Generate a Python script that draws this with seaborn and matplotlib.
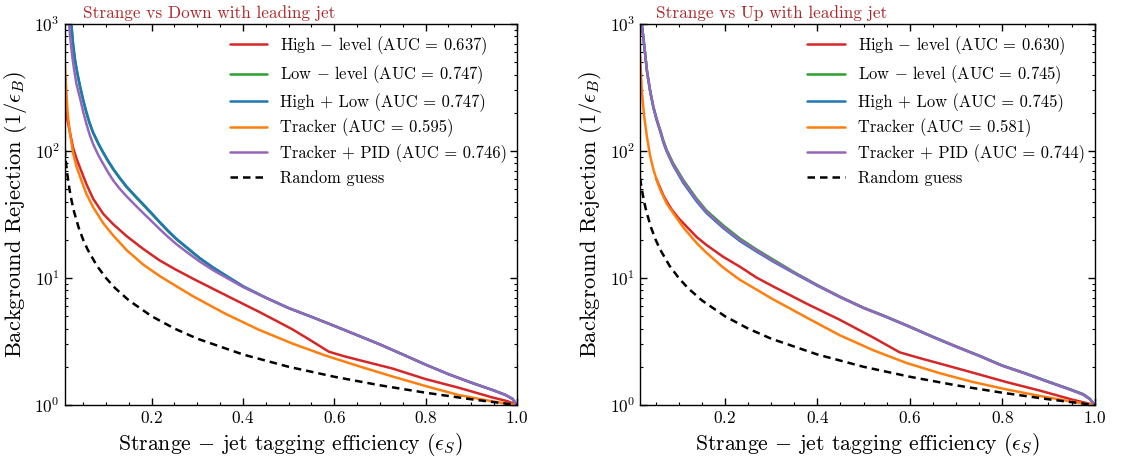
import numpy as np
import pandas as pd
import matplotlib
matplotlib.use("Agg")
import matplotlib.pyplot as plt
import matplotlib.transforms as mtransforms
from matplotlib.ticker import MultipleLocator, LogLocator
import seaborn as sns

# ---------------- Strange vs Down ----------------
down_high_eff = [0.0095, 0.012, 0.015, 0.021, 0.028, 0.035, 0.043, 0.057, 0.072, 0.094, 0.115,
                 0.145, 0.18, 0.217, 0.25, 0.29, 0.363, 0.436, 0.508, 0.55, 0.588, 0.62,
                 0.654, 0.727, 0.8, 0.872, 0.945, 0.98, 1.0]
down_high_rej = [260, 215, 180, 140, 106, 88, 74, 55, 42, 32, 26.7,
                 21.4, 17.1, 13.8, 11.8, 9.9, 7.3, 5.4, 3.95, 3.2, 2.63, 2.43,
                 2.26, 1.94, 1.6, 1.37, 1.15, 1.07, 1.0]

down_low_eff = [0.024, 0.028, 0.032, 0.037, 0.043, 0.05, 0.057, 0.064, 0.072, 0.083, 0.094,
                0.105, 0.116, 0.13, 0.145, 0.163, 0.181, 0.2, 0.217, 0.235, 0.254, 0.28,
                0.305, 0.335, 0.363, 0.4, 0.45, 0.5, 0.55, 0.6, 0.65, 0.7, 0.75, 0.8, 0.85,
                0.9, 0.95, 0.975, 0.99, 1.0]
down_low_rej = [1000, 680, 520, 410, 322, 250, 200, 165, 138, 114, 96.5,
                82.5, 71.5, 61, 52, 44.2, 37.8, 32, 27.5, 23.5, 20.2, 16.9,
                14.3, 12.0, 10.4, 8.6, 7.0, 5.8, 4.95, 4.2, 3.55, 3.0, 2.5, 2.08, 1.75,
                1.5, 1.3, 1.2, 1.12, 1.0]

down_comb_eff = down_low_eff
down_comb_rej = [1000, 690, 528, 415, 326, 253, 203, 167, 140, 115.5, 97.5,
                 83.5, 72.3, 61.7, 52.6, 44.8, 38.3, 32.4, 27.8, 23.8, 20.4, 17.1,
                 14.4, 12.1, 10.45, 8.62, 7.0, 5.8, 4.95, 4.2, 3.55, 3.0, 2.5, 2.08, 1.75,
                 1.5, 1.3, 1.2, 1.12, 1.0]

down_trk_eff = [0.0095, 0.011, 0.013, 0.016, 0.021, 0.028, 0.035, 0.043, 0.057, 0.072, 0.094,
                0.115, 0.145, 0.181, 0.217, 0.25, 0.29, 0.363, 0.436, 0.508, 0.581, 0.654,
                0.727, 0.8, 0.872, 0.945, 1.0]
down_trk_rej = [520, 400, 300, 200, 138, 96, 76, 63, 46, 36, 27,
                21.8, 16.6, 12.8, 10.4, 8.8, 7.2, 5.2, 3.9, 3.05, 2.45, 2.02,
                1.68, 1.41, 1.2, 1.07, 1.0]

down_pid_eff = [0.019, 0.022, 0.026, 0.03, 0.035, 0.043, 0.05, 0.057, 0.064, 0.072, 0.083,
                0.094, 0.105, 0.116, 0.13, 0.145, 0.163, 0.181, 0.2, 0.217, 0.235, 0.254,
                0.28, 0.305, 0.335, 0.363, 0.4, 0.45, 0.5, 0.55, 0.6, 0.65, 0.7, 0.75, 0.8,
                0.85, 0.9, 0.95, 0.975, 0.99, 1.0]
down_pid_rej = [1000, 760, 560, 440, 340, 262, 204, 164, 135, 113, 93,
                79, 67.5, 58.5, 50.5, 44, 37.8, 32.6, 28, 24.4, 21.2, 18.5,
                15.7, 13.5, 11.5, 10.1, 8.5, 7.0, 5.8, 4.95, 4.2, 3.55, 3.0, 2.5, 2.08,
                1.75, 1.5, 1.3, 1.2, 1.12, 1.0]

down_rand_eff = [0.0095, 0.012, 0.015, 0.02, 0.025, 0.03, 0.04, 0.05, 0.06, 0.08, 0.1, 0.12,
                 0.15, 0.2, 0.25, 0.3, 0.4, 0.5, 0.6, 0.7, 0.8, 0.9, 1.0]
down_rand_rej = [105, 83.3, 66.7, 50, 40, 33.3, 25, 20, 16.7, 12.5, 10, 8.33,
                 6.67, 5, 4, 3.33, 2.5, 2, 1.67, 1.43, 1.25, 1.11, 1.0]

down_auc = [0.637, 0.747, 0.747, 0.595, 0.746]

# ---------------- Strange vs Up ----------------
up_high_eff = [0.051, 0.06, 0.067, 0.076, 0.085, 0.1, 0.11, 0.139, 0.16, 0.196, 0.232, 0.268,
               0.304, 0.376, 0.448, 0.521, 0.578, 0.62, 0.665, 0.736, 0.808, 0.881, 0.953, 1.0]
up_high_rej = [61, 51, 44.5, 39, 34.5, 29.5, 27, 21, 18.2, 14.7, 12.3, 10.1,
               8.6, 6.3, 4.7, 3.4, 2.6, 2.35, 2.12, 1.8, 1.52, 1.3, 1.1, 1.0]

up_low_eff = [0.02, 0.025, 0.031, 0.038, 0.045, 0.052, 0.06, 0.067, 0.074, 0.088, 0.11, 0.139,
              0.16, 0.196, 0.232, 0.268, 0.304, 0.35, 0.4, 0.45, 0.5, 0.55, 0.6, 0.65, 0.7,
              0.75, 0.8, 0.85, 0.9, 0.95, 0.975, 0.99, 1.0]
up_low_rej = [1000, 700, 435, 300, 224, 180, 146, 120, 102, 80, 59, 42,
              34, 26, 20.5, 16.8, 14.0, 11.1, 8.8, 7.1, 5.85, 4.95, 4.15, 3.45, 2.9,
              2.45, 2.05, 1.78, 1.53, 1.32, 1.22, 1.12, 1.0]

up_comb_eff = up_low_eff
up_comb_rej = [1000, 690, 430, 296, 220, 176, 142, 116, 99, 77, 56, 40,
               32.5, 24.8, 19.6, 16.2, 13.5, 10.9, 8.7, 7.05, 5.8, 4.92, 4.12, 3.43, 2.88,
               2.44, 2.04, 1.77, 1.52, 1.31, 1.21, 1.11, 1.0]

up_trk_eff = [0.0164, 0.02, 0.025, 0.031, 0.038, 0.045, 0.052, 0.06, 0.074, 0.088, 0.11, 0.139,
              0.16, 0.196, 0.232, 0.304, 0.376, 0.448, 0.521, 0.592, 0.665, 0.736, 0.808,
              0.881, 0.953, 1.0]
up_trk_rej = [560, 300, 190, 130, 92, 72, 59.5, 49.5, 38.5, 32.5, 25, 18.8,
              15.8, 12.1, 9.7, 6.8, 4.9, 3.55, 2.7, 2.15, 1.78, 1.52, 1.33,
              1.18, 1.06, 1.0]

up_pid_eff = up_low_eff
up_pid_rej = [1000, 695, 432, 298, 222, 178, 144, 118, 100, 78, 57.5, 41,
              33.2, 25.3, 20, 16.5, 13.7, 11.0, 8.75, 7.07, 5.82, 4.93, 4.13, 3.44, 2.89,
              2.44, 2.04, 1.77, 1.52, 1.31, 1.21, 1.11, 1.0]

up_rand_eff = [0.0164, 0.02, 0.025, 0.03, 0.04, 0.05, 0.06, 0.08, 0.1, 0.12, 0.15, 0.2,
               0.25, 0.3, 0.4, 0.5, 0.6, 0.7, 0.8, 0.9, 1.0]
up_rand_rej = [61, 50, 40, 33.3, 25, 20, 16.7, 12.5, 10, 8.33, 6.67, 5,
               4, 3.33, 2.5, 2, 1.67, 1.43, 1.25, 1.11, 1.0]

up_auc = [0.630, 0.745, 0.745, 0.581, 0.744]

model_names = [r"High $-$ level", r"Low $-$ level", "High + Low", "Tracker", "Tracker + PID"]
model_colors = ["#d62728", "#2ca02c", "#1f77b4", "#ff7f0e", "#9467bd"]

panels = [
    dict(title="Strange vs Down with leading jet", xmin=0.0095, auc=down_auc,
         curves=[(down_high_eff, down_high_rej), (down_low_eff, down_low_rej),
                 (down_comb_eff, down_comb_rej), (down_trk_eff, down_trk_rej),
                 (down_pid_eff, down_pid_rej)],
         rand=(down_rand_eff, down_rand_rej)),
    dict(title="Strange vs Up with leading jet", xmin=0.0164, auc=up_auc,
         curves=[(up_high_eff, up_high_rej), (up_low_eff, up_low_rej),
                 (up_comb_eff, up_comb_rej), (up_trk_eff, up_trk_rej),
                 (up_pid_eff, up_pid_rej)],
         rand=(up_rand_eff, up_rand_rej)),
]

sns.set_theme(style="ticks")
plt.rcParams.update({
    "font.family": ["cmr10", "DejaVu Serif"],
    "mathtext.fontset": "cm",
    "axes.unicode_minus": False,
    "axes.formatter.use_mathtext": True,
    "axes.edgecolor": "black",
    "axes.linewidth": 1.0,
    "xtick.color": "black",
    "ytick.color": "black",
    "text.color": "black",
    "axes.labelcolor": "black",
})

DASH = (0, (3, 2))

fig = plt.figure(figsize=(11.25, 4.59), dpi=100)
axes = [fig.add_axes([0.0575, 0.1176, 0.402, 0.830]),
        fig.add_axes([0.569, 0.1176, 0.404, 0.830])]

for ax, p in zip(axes, panels):
    for (eff, rej), name, col, auc in zip(p["curves"], model_names, model_colors, p["auc"]):
        df = pd.DataFrame({"eff": eff, "rej": rej})
        sns.lineplot(data=df, x="eff", y="rej", ax=ax, color=col, linewidth=1.8,
                     sort=False, estimator=None,
                     label=f"{name} (AUC = {auc:.3f})")
    rdf = pd.DataFrame({"eff": p["rand"][0], "rej": p["rand"][1]})
    sns.lineplot(data=rdf, x="eff", y="rej", ax=ax, color="black", linewidth=1.8,
                 sort=False, estimator=None, label="Random guess")
    ax.lines[-1].set_linestyle(DASH)

    ax.set_yscale("log")
    ax.set_ylim(1, 1000)
    ax.set_xlim(p["xmin"], 1.0)
    ax.xaxis.set_major_locator(MultipleLocator(0.2))
    ax.xaxis.set_minor_locator(MultipleLocator(0.05))
    ax.yaxis.set_major_locator(LogLocator(base=10))
    ax.yaxis.set_minor_locator(LogLocator(base=10, subs=np.arange(2, 10)))
    ax.tick_params(which="both", direction="in", top=True, right=True, labelsize=12.3)
    ax.tick_params(which="major", length=5, width=1.0)
    ax.tick_params(which="minor", length=2.5, width=0.8)
    ax.set_xlabel(r"Strange $-$ jet tagging efficiency $(\epsilon_S)$", fontsize=15.7)
    ax.set_ylabel(r"Background Rejection $(1/\epsilon_B)$", fontsize=16.2)

    trans = mtransforms.blended_transform_factory(ax.transData, ax.transAxes)
    ax.text(0.05, 1.008, p["title"], transform=trans, color="#a8282a",
            fontsize=12.4, ha="left", va="bottom")

    leg = ax.legend(loc="upper right", frameon=False, fontsize=11.9, handlelength=2.25,
                    handletextpad=0.79, labelspacing=0.42, borderaxespad=0.2)
    leg.get_lines()[-1].set_linestyle(DASH)

fig.savefig("out.png", dpi=100)
